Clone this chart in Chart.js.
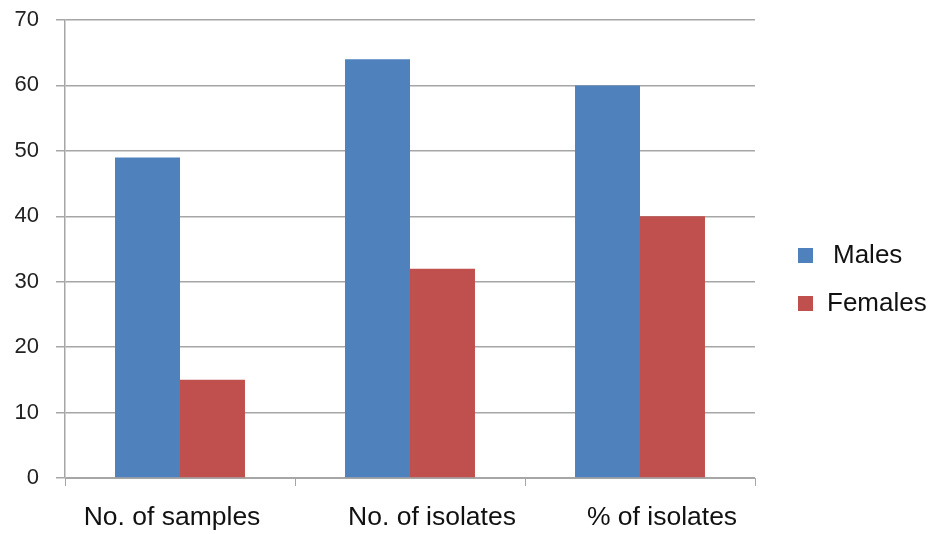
<!DOCTYPE html>
<html>
<head>
<meta charset="utf-8">
<script src="https://cdn.jsdelivr.net/npm/chart.js@4/dist/chart.umd.min.js"></script>
<style>
  html, body { margin: 0; padding: 0; background: #ffffff; }
  #wrap { width: 930px; height: 534px; }
</style>
</head>
<body>
<div id="wrap"><canvas id="c" width="930" height="534"></canvas></div>
<script>
// Chart data
const categories = ["No. of samples", "No. of isolates", "% of isolates"];
const males = [49, 64, 60];
const females = [15, 32, 40];
const seriesNames = ["Males", "Females"];
const seriesColors = ["#4f81bd", "#c0504d"];
const yTicks = [0, 10, 20, 30, 40, 50, 60, 70];

const FONT = "'Liberation Sans', Arial, sans-serif";
const GRID = "#a6a6a6";
const TEXT = "#111111";

// Horizontal nudges for the category captions under the axis
const captionShift = [-8, 22, 22];

// Category captions, placed from the x scale's own tick positions
const categoryCaptions = {
  id: "categoryCaptions",
  afterDraw(chart) {
    const ctx = chart.ctx;
    const xs = chart.scales.x;
    ctx.save();
    ctx.font = "26.5px " + FONT;
    ctx.fillStyle = TEXT;
    ctx.textAlign = "center";
    ctx.textBaseline = "middle";
    chart.data.labels.forEach((lab, i) => {
      ctx.fillText(lab, xs.getPixelForValue(i) + captionShift[i], xs.bottom - 16);
    });
    ctx.restore();
  }
};

// Legend drawn at the right of the plot, using the dataset labels and colours
const sideLegend = {
  id: "sideLegend",
  afterDraw(chart) {
    const ctx = chart.ctx;
    ctx.save();
    ctx.font = "26px " + FONT;
    ctx.textBaseline = "middle";
    chart.data.datasets.forEach((ds, i) => {
      const y = 255 + i * 48;
      ctx.fillStyle = ds.backgroundColor;
      ctx.fillRect(798, y - 7, 15, 15);
      ctx.fillStyle = TEXT;
      ctx.fillText(ds.label, i === 0 ? 833 : 827, y + 1);
    });
    ctx.restore();
  }
};

new Chart(document.getElementById("c"), {
  type: "bar",
  data: {
    labels: categories,
    datasets: [
      { label: seriesNames[0], data: males, backgroundColor: seriesColors[0] },
      { label: seriesNames[1], data: females, backgroundColor: seriesColors[1] }
    ]
  },
  options: {
    responsive: false,
    animation: false,
    devicePixelRatio: 1,
    layout: { padding: { left: 0, top: 20, right: 175, bottom: 0 } },
    datasets: { bar: { categoryPercentage: 0.565, barPercentage: 1.0, borderWidth: 0 } },
    plugins: { legend: { display: false }, tooltip: { enabled: false } },
    scales: {
      x: {
        offset: true,
        grid: { offset: true, drawOnChartArea: false, drawTicks: true, tickLength: 8, color: GRID },
        border: { color: GRID, width: 1 },
        ticks: { display: false },
        afterFit(s) { s.height = 56; s.paddingLeft = 0; s.paddingRight = 0; }
      },
      y: {
        min: 0,
        max: 70,
        afterBuildTicks(s) { s.ticks = yTicks.map(v => ({ value: v })); },
        grid: { color: GRID, lineWidth: 1.5, tickLength: 9 },
        border: { color: GRID, width: 1.5 },
        ticks: { color: "#222222", font: { family: FONT, size: 22 }, padding: 17 },
        afterFit(s) { s.width = 65; s.paddingTop = 0; s.paddingBottom = 0; }
      }
    }
  },
  plugins: [categoryCaptions, sideLegend]
});
</script>
</body>
</html>
